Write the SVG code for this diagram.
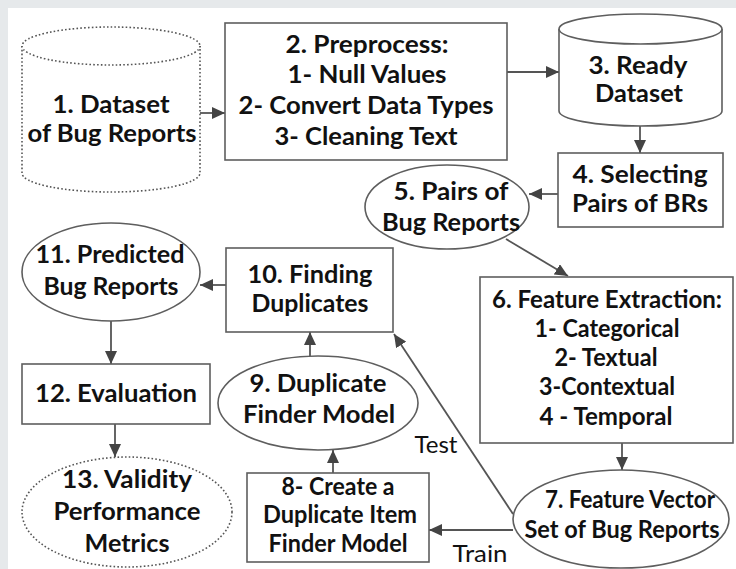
<svg xmlns="http://www.w3.org/2000/svg" width="736" height="569" viewBox="0 0 736 569">
<style>
.bg{fill:#e6e9eb}
.panel{fill:#ffffff}
.shape{fill:#ffffff;stroke:#5e5e5e;stroke-width:1.6}
.dot{fill:#ffffff;stroke:#555555;stroke-width:1.6;stroke-dasharray:1.6 2.2}
.t{font-family:Lato,"Liberation Sans",sans-serif;font-weight:bold;font-size:24px;fill:#111111;text-anchor:middle}
.r{font-family:Lato,"Liberation Sans",sans-serif;font-size:24px;fill:#111111;text-anchor:middle}
.c{fill:none;stroke:#555555;stroke-width:1.8;marker-end:url(#ah)}
</style>
<defs>
<marker id="ah" markerUnits="userSpaceOnUse" markerWidth="14" markerHeight="12" refX="13" refY="6" orient="auto">
<path d="M0,0 L13,6 L0,12 z" fill="#444444"/>
</marker>
</defs>
<rect class="bg" x="0" y="0" width="736" height="569"/>
<rect class="panel" x="8" y="8" width="728" height="561"/>

<g id="connectors">
<path class="c" d="M200,113 L225,113"/>
<path class="c" d="M507,72 L559,72"/>
<path class="c" d="M640,126 L640,153"/>
<path class="c" d="M558,194 L529,194"/>
<path class="c" d="M506,239 L568,276"/>
<path class="c" d="M622,443 L622,470"/>
<path class="c" d="M513,530 L429,530"/>
<path class="c" d="M513,514 L394,334"/>
<path class="c" d="M310,356 L310,332"/>
<path class="c" d="M333,473 L333,450"/>
<path class="c" d="M226,285 L200,285"/>
<path class="c" d="M111,321 L111,364"/>
<path class="c" d="M115,424 L115,457"/>
<text class="r" x="436" y="453" textLength="43" lengthAdjust="spacingAndGlyphs">Test</text>
<text class="r" x="480" y="562" textLength="55" lengthAdjust="spacingAndGlyphs">Train</text>
</g>

<g id="node1">
<path class="dot" d="M22,46 L22,173 A89,19 0 0 0 200,173 L200,46"/>
<ellipse class="dot" cx="111" cy="46" rx="89" ry="19"/>
<text class="t" x="111" y="113" textLength="117" lengthAdjust="spacingAndGlyphs">1. Dataset</text>
<text class="t" x="112" y="142" textLength="169" lengthAdjust="spacingAndGlyphs">of Bug Reports</text>
</g>

<g id="node2">
<rect class="shape" x="225" y="23" width="282" height="137"/>
<text class="t" x="367" y="53" textLength="163" lengthAdjust="spacingAndGlyphs">2. Preprocess:</text>
<text class="t" x="367" y="83" textLength="159" lengthAdjust="spacingAndGlyphs">1- Null Values</text>
<text class="t" x="366" y="114" textLength="255" lengthAdjust="spacingAndGlyphs">2- Convert Data Types</text>
<text class="t" x="366" y="145" textLength="183" lengthAdjust="spacingAndGlyphs">3- Cleaning Text</text>
</g>

<g id="node3">
<path class="shape" d="M559,29 L559,111 A81.5,15 0 0 0 722,111 L722,29"/>
<ellipse class="shape" cx="640.5" cy="29" rx="81.5" ry="15"/>
<text class="t" x="638" y="74" textLength="99" lengthAdjust="spacingAndGlyphs">3. Ready</text>
<text class="t" x="639" y="102" textLength="88" lengthAdjust="spacingAndGlyphs">Dataset</text>
</g>

<g id="node4">
<rect class="shape" x="558" y="153" width="165" height="74"/>
<text class="t" x="640" y="183" textLength="135" lengthAdjust="spacingAndGlyphs">4. Selecting</text>
<text class="t" x="640" y="212" textLength="136" lengthAdjust="spacingAndGlyphs">Pairs of BRs</text>
</g>

<g id="node5">
<ellipse class="shape" cx="447" cy="207" rx="82" ry="42"/>
<text class="t" x="451" y="200" textLength="115" lengthAdjust="spacingAndGlyphs">5. Pairs of</text>
<text class="t" x="451" y="231" textLength="138" lengthAdjust="spacingAndGlyphs">Bug Reports</text>
</g>

<g id="node6">
<rect class="shape" x="480" y="277" width="253" height="166"/>
<text class="t" x="607" y="308" textLength="230" lengthAdjust="spacingAndGlyphs">6. Feature Extraction:</text>
<text class="t" x="607" y="337" textLength="145" lengthAdjust="spacingAndGlyphs">1- Categorical</text>
<text class="t" x="606" y="366" textLength="103" lengthAdjust="spacingAndGlyphs">2- Textual</text>
<text class="t" x="607" y="395" textLength="136" lengthAdjust="spacingAndGlyphs">3-Contextual</text>
<text class="t" x="606" y="425" textLength="133" lengthAdjust="spacingAndGlyphs">4 - Temporal</text>
</g>

<g id="node7">
<ellipse class="shape" cx="621" cy="519" rx="108" ry="49"/>
<text class="t" x="630" y="508" textLength="170" lengthAdjust="spacingAndGlyphs">7. Feature Vector</text>
<text class="t" x="622" y="538" textLength="195" lengthAdjust="spacingAndGlyphs">Set of Bug Reports</text>
</g>

<g id="node8">
<rect class="shape" x="247" y="473" width="182" height="89"/>
<text class="t" x="338" y="495" textLength="113" lengthAdjust="spacingAndGlyphs">8- Create a</text>
<text class="t" x="340" y="523" textLength="154" lengthAdjust="spacingAndGlyphs">Duplicate Item</text>
<text class="t" x="338" y="552" textLength="139" lengthAdjust="spacingAndGlyphs">Finder Model</text>
</g>

<g id="node9">
<ellipse class="shape" cx="318" cy="403" rx="100" ry="47"/>
<text class="t" x="318" y="392" textLength="137" lengthAdjust="spacingAndGlyphs">9. Duplicate</text>
<text class="t" x="319" y="423" textLength="152" lengthAdjust="spacingAndGlyphs">Finder Model</text>
</g>

<g id="node10">
<rect class="shape" x="226" y="248" width="167" height="84"/>
<text class="t" x="310" y="283" textLength="125" lengthAdjust="spacingAndGlyphs">10. Finding</text>
<text class="t" x="310" y="312" textLength="117" lengthAdjust="spacingAndGlyphs">Duplicates</text>
</g>

<g id="node11">
<ellipse class="shape" cx="111" cy="272" rx="89" ry="49"/>
<text class="t" x="110" y="263" textLength="149" lengthAdjust="spacingAndGlyphs">11. Predicted</text>
<text class="t" x="111" y="295" textLength="135" lengthAdjust="spacingAndGlyphs">Bug Reports</text>
</g>

<g id="node12">
<rect class="shape" x="22" y="364" width="188" height="60"/>
<text class="t" x="116" y="402" textLength="162" lengthAdjust="spacingAndGlyphs">12. Evaluation</text>
</g>

<g id="node13">
<ellipse class="dot" cx="127" cy="512" rx="105" ry="55"/>
<text class="t" x="127" y="488" textLength="130" lengthAdjust="spacingAndGlyphs">13. Validity</text>
<text class="t" x="127" y="520" textLength="147" lengthAdjust="spacingAndGlyphs">Performance</text>
<text class="t" x="127" y="552" textLength="85" lengthAdjust="spacingAndGlyphs">Metrics</text>
</g>
</svg>
